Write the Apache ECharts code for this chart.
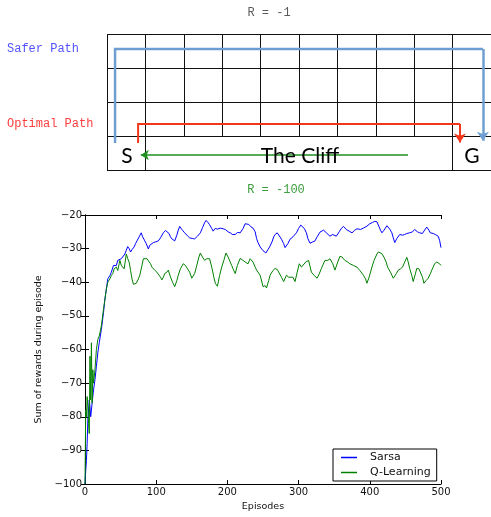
<!DOCTYPE html>
<html>
<head>
<meta charset="utf-8">
<script src="https://cdn.jsdelivr.net/npm/echarts@6/dist/echarts.min.js"></script>
<style>html,body{margin:0;padding:0;background:#fff;}#c{width:491px;height:517px;}</style>
</head>
<body>
<div id="c"></div>
<script>
// ---------- data ----------
const xTicks = [0, 100, 200, 300, 400, 500];
const yTicks = [-100, -90, -80, -70, -60, -50, -40, -30, -20];
const seriesNames = ['Sarsa', 'Q-Learning'];

const sarsa = [[0,-100],[1,-96],[2,-93],[3,-88],[4,-81],[5,-78],[6,-75],[7,-77],[8,-80],[9,-80],[10,-76],[12,-72],[14,-69],[16,-65],[18,-61],[20,-58],[23,-54],[26,-49],[28,-45],[30,-42],[32,-39],[35,-38],[37,-37],[40,-35],[42,-34.5],[44,-35],[46,-33.5],[48,-34],[51,-33],[53,-33.5],[56,-31.6],[58,-30.5],[60,-29.4],[62,-30],[64,-31],[66,-30.3],[69,-29.5],[71,-28.5],[73,-27.7],[76,-26.5],[79,-25.3],[81,-26.5],[84,-27.7],[86,-28.5],[89,-30.1],[91,-29],[93,-28.5],[96,-28.2],[99,-28],[103,-27.7],[106,-26.8],[110,-25.3],[113,-24.6],[115,-24.1],[118,-25.5],[120,-26.5],[122,-27.1],[126,-27.7],[129,-26],[131,-24.5],[133,-23.4],[136,-24.3],[140,-25.3],[144,-26.2],[147,-26.8],[151,-27],[154,-27.1],[158,-26.3],[162,-25.3],[165,-23.8],[168,-22.3],[170,-21.6],[173,-22.3],[175,-22.9],[178,-24],[180,-24.8],[183,-24],[186,-24.2],[190,-23.9],[194,-24.1],[197,-24.3],[201,-25],[204,-25.3],[207,-25.8],[211,-25.8],[214,-25.2],[218,-25.3],[222,-24],[225,-22.6],[227,-22.2],[230,-22.8],[233,-23.5],[236,-23.9],[239,-25],[241,-27],[243,-28.2],[246,-29.5],[250,-30.6],[254,-31.3],[257,-30.3],[260,-29.2],[263,-27.8],[265,-26.5],[267,-25.8],[270,-25.3],[272,-25.3],[276,-27.2],[279,-28.5],[281,-29.7],[285,-28.5],[288,-27.2],[292,-26.5],[297,-25.3],[300,-24],[303,-23],[305,-22.6],[308,-24],[311,-25.3],[313,-27],[316,-28.4],[320,-28],[323,-27.7],[326,-26.5],[330,-25.1],[335,-24.5],[339,-25.3],[344,-26.3],[348,-25.8],[353,-26.3],[357,-25],[360,-24],[363,-23.4],[367,-24.3],[371,-24.8],[375,-25.3],[379,-24.5],[382,-24.1],[387,-24.3],[391,-23.9],[396,-23.3],[400,-22.6],[404,-22.2],[407,-21.9],[410,-22],[412,-22.4],[415,-24.5],[417,-25.3],[420,-24.5],[424,-23.2],[428,-24.2],[431,-25.3],[433,-26.8],[435,-28.2],[438,-27],[442,-25.8],[446,-26],[449,-25.8],[452,-25.5],[456,-25.3],[460,-25],[463,-24.3],[467,-25],[470,-25.3],[474,-25.5],[477,-24.5],[480,-23.6],[483,-24.5],[485,-25.3],[489,-25.5],[492,-25.8],[494,-26],[496,-26.3],[498,-27.5],[500,-29.7]];

const qlearning = [[0,-100],[1,-78],[2,-80],[3,-74],[4,-77],[5,-82],[6,-85],[7,-62],[8,-75],[9,-58],[10,-76],[11,-66],[12,-70],[14,-66],[16,-60],[18,-57],[20,-56],[23,-53],[26,-48],[28,-45],[30,-42],[32,-40],[35,-39],[37,-38],[39,-37.4],[41,-36],[44,-35.5],[46,-36.5],[48,-34.5],[49,-33.5],[51,-35],[53,-34.5],[55,-36],[58,-31.6],[60,-33],[62,-34],[64,-36.5],[66,-39],[68,-40.6],[70,-40.5],[72,-40.3],[75,-39],[77,-37.9],[80,-35],[82,-33],[84,-32.6],[87,-33],[89,-33.4],[92,-34.5],[94,-35.5],[96,-36],[98,-36.4],[101,-37],[103,-37.4],[106,-38.5],[108,-39.3],[110,-38.5],[112,-37.4],[115,-37],[117,-36.4],[120,-38.4],[123,-40],[126,-41.3],[129,-39.5],[131,-37.9],[134,-36],[138,-34.5],[141,-35],[143,-35.5],[147,-37],[150,-38.8],[154,-37.4],[157,-35],[160,-32.5],[162,-31.3],[165,-32.5],[168,-33.5],[171,-33],[175,-33],[178,-35.5],[181,-38.5],[183,-40.3],[186,-41.2],[189,-38],[192,-35.5],[195,-33.5],[198,-31.3],[201,-32.5],[204,-34],[206,-35],[209,-36.5],[211,-37.4],[214,-35],[218,-32.9],[222,-33.5],[225,-34],[229,-34.5],[232,-33],[236,-34],[239,-35.5],[241,-36.4],[246,-37.9],[250,-41.3],[253,-41],[255,-41.7],[258,-39.5],[260,-37.9],[264,-36.5],[267,-35.9],[270,-36.2],[272,-36.4],[276,-38.5],[279,-39.8],[283,-37.9],[286,-38.5],[288,-38.8],[292,-38.5],[295,-39.8],[298,-37],[301,-34.5],[304,-35.5],[306,-35],[310,-34],[314,-33.5],[318,-37],[322,-38],[326,-38.8],[329,-37.5],[332,-35.9],[337,-33.5],[341,-33.5],[344,-33],[348,-34.5],[351,-36.4],[355,-34],[358,-32.3],[361,-32.5],[365,-33.5],[369,-34],[372,-34.5],[377,-35],[382,-35.5],[386,-36.5],[391,-37.9],[394,-39],[396,-40.3],[399,-38.5],[403,-35.5],[406,-33.5],[410,-31.6],[412,-31],[414,-30.6],[417,-31.5],[420,-32.6],[423,-34],[425,-35.5],[429,-37],[433,-38.8],[437,-37.5],[440,-36.4],[443,-36],[446,-35.5],[449,-34],[452,-32.6],[454,-34],[456,-35.9],[459,-38],[461,-39.8],[464,-37.5],[466,-35.9],[469,-36],[471,-36.4],[474,-38.5],[476,-40.3],[479,-39.5],[482,-38.8],[485,-37.5],[487,-36.4],[489,-35.5],[491,-34.5],[494,-34],[496,-33.5],[498,-34.5],[500,-35]];

// cliff-walking diagram (grid units: columns x, rows y)
const gridCols = 10;
const gridRows = 4;
const fullCols = [0, 1, 9];          // vertical lines running through the cliff row
const saferPath = [[0.21, 0.81], [0.21, 3.57], [9.79, 3.57], [9.79, 0.88]];
const optimalPath = [[0.81, 0.81], [0.81, 1.37], [9.19, 1.37], [9.19, 0.83]];
const cliffArrow = [[7.84, 0.46], [0.88, 0.46]];
const diagramLabels = ['R = -1', 'Safer Path', 'Optimal Path', 'R = -100', 'S', 'The Cliff', 'G'];

// ---------- build ----------
const gridLines = [];
for (let y = 0; y <= gridRows; y++) gridLines.push({coords: [[0, y], [gridCols, y]]});
for (let x = 0; x <= gridCols; x++) {
  const y0 = fullCols.indexOf(x) >= 0 ? 0 : 1;
  gridLines.push({coords: [[x, y0], [x, gridRows]]});
}
// split a path into its body (polyline) and its final segment (drawn with an arrow head)
const body = p => p.slice(0, p.length - 1);
const lastSeg = p => [p[p.length - 2], p[p.length - 1]];

const minus = v => String(v).replace('-', '\u2212');
const tickFont = {fontFamily: 'DejaVu Sans', fontSize: 10, color: '#111'};
const monoFont = 'Liberation Mono';

function pathSeries(path, color, width, arrowSize) {
  const out = [];
  if (path.length > 2) {
    out.push({type: 'lines', coordinateSystem: 'cartesian2d', xAxisIndex: 2, yAxisIndex: 2, polyline: true,
      data: [{coords: body(path)}], lineStyle: {color: color, width: width, opacity: 1, join: 'miter'}, silent: true, z: 5});
  }
  out.push({type: 'lines', coordinateSystem: 'cartesian2d', xAxisIndex: 2, yAxisIndex: 2,
    data: [{coords: lastSeg(path)}], lineStyle: {color: color, width: width, opacity: 1, curveness: 0},
    symbol: ['none', 'arrow'], symbolSize: arrowSize, silent: true, z: 5});
  return out;
}

const chart = echarts.init(document.getElementById('c'), null, {renderer: 'canvas'});
chart.setOption({
  animation: false,
  backgroundColor: '#fff',
  grid: [
    {left: 85, top: 215, width: 356, height: 276},
    {left: 107, top: 34.3, width: 386, height: 136.4}
  ],
  xAxis: [
    {gridIndex: 0, type: 'value', min: xTicks[0], max: xTicks[xTicks.length - 1], interval: 100,
     axisLine: {lineStyle: {color: '#000', width: 1}}, axisTick: {inside: true, length: 4, lineStyle: {color: '#000'}},
     axisLabel: Object.assign({margin: 3}, tickFont), splitLine: {show: false},
     name: 'Episodes', nameLocation: 'middle', nameGap: 18, nameTextStyle: {fontFamily: 'DejaVu Sans', fontSize: 9.5, color: '#111'}},
    {gridIndex: 0, type: 'value', position: 'top', min: 0, max: 500, interval: 100,
     axisLine: {lineStyle: {color: '#000', width: 1}}, axisTick: {inside: true, length: 4, lineStyle: {color: '#000'}},
     axisLabel: {show: false}, splitLine: {show: false}},
    {gridIndex: 1, type: 'value', min: 0, max: gridCols, show: false}
  ],
  yAxis: [
    {gridIndex: 0, type: 'value', min: yTicks[0], max: yTicks[yTicks.length - 1], interval: 10,
     axisLine: {show: true, lineStyle: {color: '#000', width: 1}}, axisTick: {show: true, inside: true, length: 4, lineStyle: {color: '#000'}},
     axisLabel: Object.assign({margin: 3, formatter: minus}, tickFont), splitLine: {show: false},
     name: 'Sum of rewards during episode', nameLocation: 'middle', nameGap: 36, nameRotate: 90,
     nameTextStyle: {fontFamily: 'DejaVu Sans', fontSize: 9.5, color: '#111'}},
    {gridIndex: 0, type: 'value', position: 'right', min: -100, max: -20, interval: 10,
     axisLine: {show: true, lineStyle: {color: '#000', width: 1}}, axisTick: {show: true, inside: true, length: 4, lineStyle: {color: '#000'}},
     axisLabel: {show: false}, splitLine: {show: false}},
    {gridIndex: 1, type: 'value', min: 0, max: gridRows, show: false}
  ],
  legend: {
    data: seriesNames, orient: 'vertical', left: 333, top: 449,
    icon: 'rect', itemWidth: 16, itemHeight: 1.5, itemGap: 4,
    padding: [3, 6, 3, 8], borderColor: '#000', borderWidth: 1, backgroundColor: '#fff',
    textStyle: {fontFamily: 'DejaVu Sans', fontSize: 11, color: '#111', padding: [0, 0, 0, 8]}
  },
  series: [
    {name: seriesNames[0], type: 'line', xAxisIndex: 0, yAxisIndex: 0, data: sarsa, showSymbol: false,
     lineStyle: {color: '#0000ff', width: 1}, itemStyle: {color: '#0000ff'}, z: 3},
    {name: seriesNames[1], type: 'line', xAxisIndex: 0, yAxisIndex: 0, data: qlearning, showSymbol: false,
     lineStyle: {color: '#008000', width: 1}, itemStyle: {color: '#008000'}, z: 4},
    {type: 'lines', coordinateSystem: 'cartesian2d', xAxisIndex: 2, yAxisIndex: 2, data: gridLines,
     lineStyle: {color: '#111', width: 1, opacity: 1}, symbol: 'none', silent: true}
  ].concat(
    pathSeries(saferPath, '#6f9fd2', 2.5, 9),
    pathSeries(optimalPath, '#f2361a', 2, 9),
    pathSeries(cliffArrow, '#1f8f1f', 1.5, 8)
  ),
  graphic: [
    {type: 'text', x: 269, y: 13, z: 100, style: {text: diagramLabels[0], fill: '#5a5a5a', font: '12px "' + monoFont + '"', align: 'center', verticalAlign: 'middle'}},
    {type: 'text', x: 7, y: 49, z: 100, style: {text: diagramLabels[1], fill: '#5252ff', font: '12px "' + monoFont + '"', align: 'left', verticalAlign: 'middle'}},
    {type: 'text', x: 7, y: 124, z: 100, style: {text: diagramLabels[2], fill: '#ff3c3c', font: '12px "' + monoFont + '"', align: 'left', verticalAlign: 'middle'}},
    {type: 'text', x: 276, y: 190, z: 100, style: {text: diagramLabels[3], fill: '#3d9e3d', font: '12px "' + monoFont + '"', align: 'center', verticalAlign: 'middle'}},
    {type: 'text', x: 127, y: 156, z: 100, style: {text: diagramLabels[4], fill: '#000', font: '21px Lato', align: 'center', verticalAlign: 'middle'}},
    {type: 'text', x: 300, y: 156, z: 100, style: {text: diagramLabels[5], fill: '#000', font: '21px Lato', align: 'center', verticalAlign: 'middle'}},
    {type: 'text', x: 472, y: 156, z: 100, style: {text: diagramLabels[6], fill: '#000', font: '21px Lato', align: 'center', verticalAlign: 'middle'}}
  ]
});
</script>
</body>
</html>
